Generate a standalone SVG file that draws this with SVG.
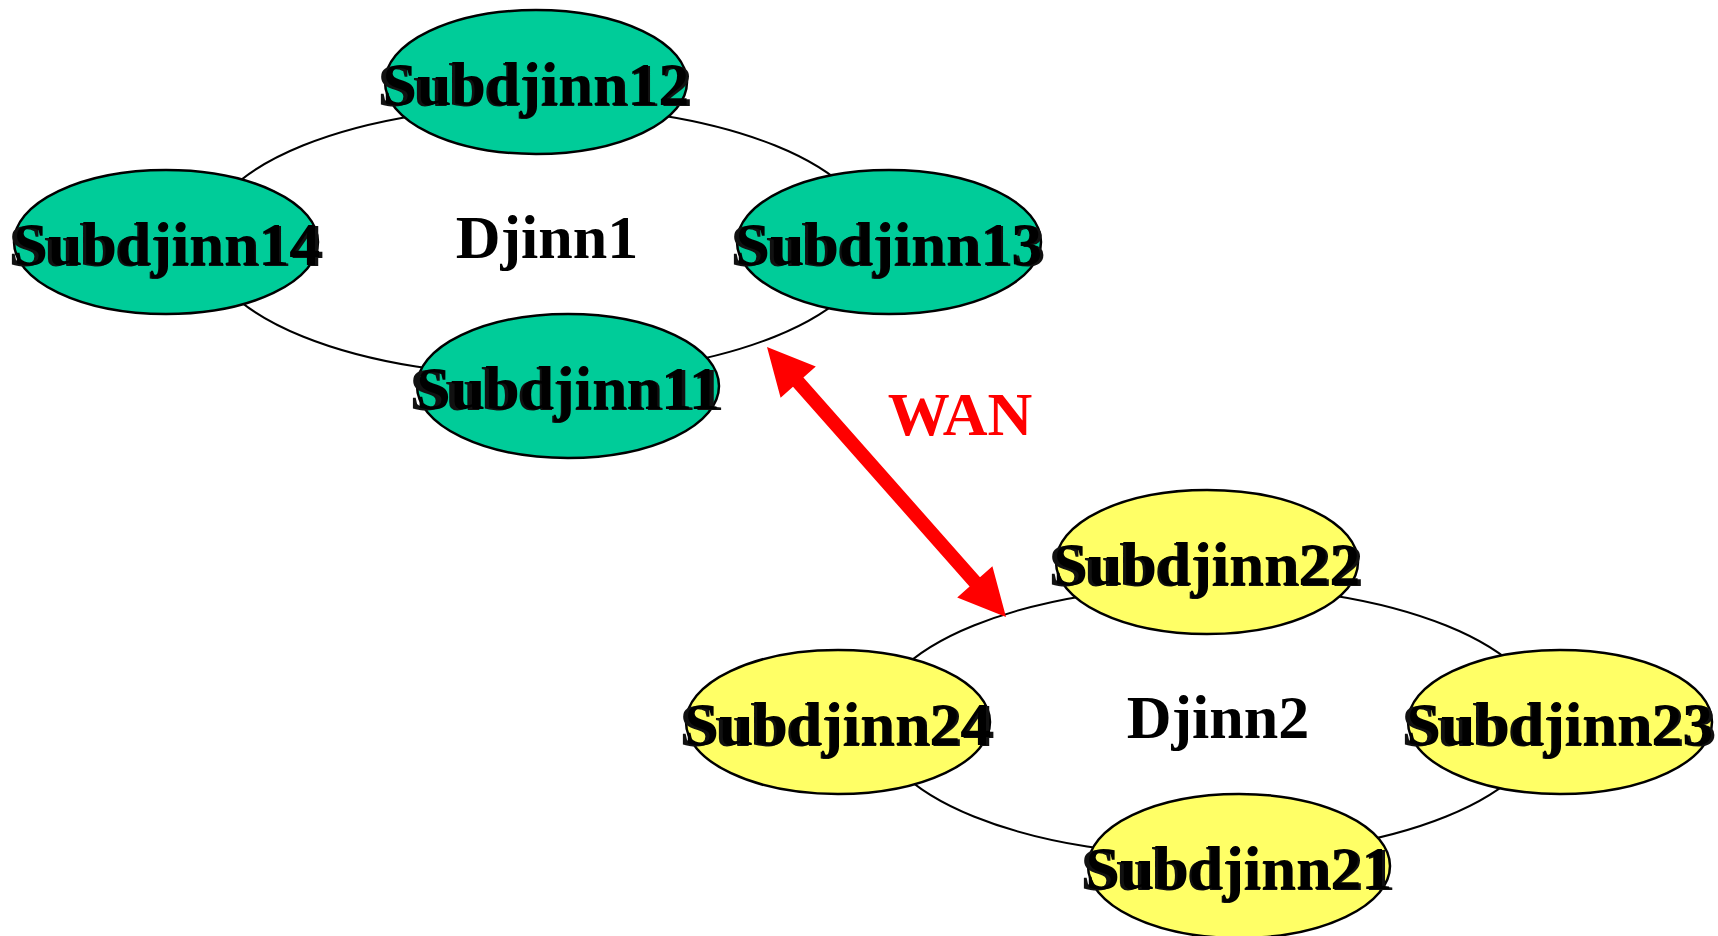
<svg xmlns="http://www.w3.org/2000/svg" width="1718" height="936" viewBox="0 0 1718 936">
  <style>
    .ring { fill: none; stroke: #000; stroke-width: 2; }
    .node ellipse { stroke: #000; stroke-width: 2.5; }
    .g1 ellipse { fill: #00cc99; }
    .g2 ellipse { fill: #ffff66; }
    .lbl { font-family: "Liberation Serif", "Times New Roman", serif; font-weight: bold; font-size: 62px; text-anchor: middle; fill: #000; }
    .shadow { fill: #111; }
    .wan { font-family: "Liberation Serif", "Times New Roman", serif; font-weight: bold; font-size: 62px; text-anchor: middle; fill: #ff0000; }
  </style>

  <rect width="1718" height="936" fill="#ffffff"/>

  <!-- rings linking the sub-djinns of each djinn, and the WAN link -->
  <g id="connectors">
    <ellipse class="ring" cx="539" cy="241" rx="334" ry="135"/>
    <ellipse class="ring" cx="1210" cy="721" rx="334" ry="135"/>
    <polygon id="wan-link" fill="#ff0000"
      points="767,347 815.8,366.6 803.4,377.6 980,577.2 992.4,566.2 1006,617 957.2,597.4 969.6,586.4 793,386.8 780.6,397.8"/>
  </g>

  <!-- Djinn1 -->
  <g id="djinn1" class="g1">
    <text class="lbl" x="547" y="258">Djinn1</text>
    <g id="subdjinn12" class="node">
      <ellipse cx="536" cy="82" rx="151" ry="72"/>
      <text class="lbl shadow" x="535" y="106" textLength="315" lengthAdjust="spacingAndGlyphs">Subdjinn12</text>
      <text class="lbl" x="536" y="105">Subdjinn12</text>
    </g>
    <g id="subdjinn14" class="node">
      <ellipse cx="166" cy="242" rx="152" ry="72"/>
      <text class="lbl shadow" x="166" y="266" textLength="315" lengthAdjust="spacingAndGlyphs">Subdjinn14</text>
      <text class="lbl" x="167" y="265">Subdjinn14</text>
    </g>
    <g id="subdjinn13" class="node">
      <ellipse cx="889" cy="242" rx="152" ry="72"/>
      <text class="lbl shadow" x="888" y="266" textLength="315" lengthAdjust="spacingAndGlyphs">Subdjinn13</text>
      <text class="lbl" x="889" y="265">Subdjinn13</text>
    </g>
    <g id="subdjinn11" class="node">
      <ellipse cx="568" cy="386" rx="151" ry="72"/>
      <text class="lbl shadow" x="567" y="410" textLength="315" lengthAdjust="spacingAndGlyphs">Subdjinn11</text>
      <text class="lbl" x="568" y="409">Subdjinn11</text>
    </g>
  </g>

  <!-- Djinn2 -->
  <g id="djinn2" class="g2">
    <text class="lbl" x="1218" y="738">Djinn2</text>
    <g id="subdjinn22" class="node">
      <ellipse cx="1207" cy="562" rx="151" ry="72"/>
      <text class="lbl shadow" x="1206" y="586" textLength="315" lengthAdjust="spacingAndGlyphs">Subdjinn22</text>
      <text class="lbl" x="1207" y="585">Subdjinn22</text>
    </g>
    <g id="subdjinn24" class="node">
      <ellipse cx="838" cy="722" rx="152" ry="72"/>
      <text class="lbl shadow" x="837" y="746" textLength="315" lengthAdjust="spacingAndGlyphs">Subdjinn24</text>
      <text class="lbl" x="838" y="745">Subdjinn24</text>
    </g>
    <g id="subdjinn23" class="node">
      <ellipse cx="1560" cy="722" rx="152" ry="72"/>
      <text class="lbl shadow" x="1559" y="746" textLength="315" lengthAdjust="spacingAndGlyphs">Subdjinn23</text>
      <text class="lbl" x="1560" y="745">Subdjinn23</text>
    </g>
    <g id="subdjinn21" class="node">
      <ellipse cx="1239" cy="866" rx="151" ry="72"/>
      <text class="lbl shadow" x="1238" y="890" textLength="315" lengthAdjust="spacingAndGlyphs">Subdjinn21</text>
      <text class="lbl" x="1239" y="889">Subdjinn21</text>
    </g>
  </g>

  <g id="wan-label">
    <text class="wan" x="960" y="435">WAN</text>
  </g>
</svg>
